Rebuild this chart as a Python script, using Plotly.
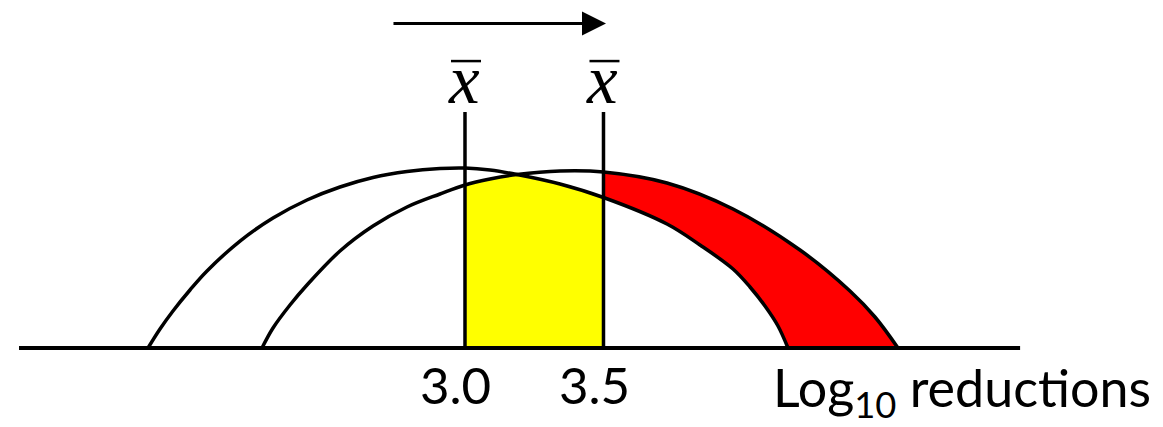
import numpy as np
import plotly.graph_objects as go

# means of the two log-reduction distributions
means = [3.0, 3.5]
tick_labels = ["3.0", "3.5"]
mean_label = "x"
axis_title = "Log<sub>10</sub> reductions"

# original distribution (height is relative)
before_x = [1.8556, 1.8989, 1.9458, 2.0072, 2.0686, 2.1877, 2.3069, 2.4296, 2.5487, 2.6679,
            2.7906, 2.9097, 3.0, 3.0903, 3.1877, 3.343, 3.5, 3.7292, 3.8484, 3.9675,
            4.0289, 4.0830, 4.1300, 4.1661]
before_y = [0.0, 0.1056, 0.2056, 0.3222, 0.4278, 0.5944, 0.7222, 0.8222, 0.8944, 0.9472,
            0.9806, 0.9972, 1.0, 0.9889, 0.9639, 0.9111, 0.8361, 0.6889, 0.5722, 0.4389,
            0.3389, 0.2333, 0.1222, 0.0]

# shifted distribution after the process improvement
after_x = [2.2671, 2.3069, 2.3682, 2.4296, 2.5487, 2.6679, 2.7906, 2.9097, 3.0, 3.0903,
           3.1877, 3.343, 3.5, 3.7292, 3.9675, 4.2094, 4.3899, 4.4801, 4.5632]
after_y = [0.0, 0.1111, 0.2389, 0.35, 0.5389, 0.6778, 0.7833, 0.8556, 0.9056, 0.9389,
           0.9639, 0.9833, 0.9778, 0.9167, 0.7722, 0.5444, 0.3167, 0.1722, 0.0]

bx, by = np.array(before_x), np.array(before_y)
ax_, ay_ = np.array(after_x), np.array(after_y)
after_lookup = dict(zip(after_x, after_y))

# yellow: area under both curves between the two means
m = (bx >= means[0]) & (bx <= means[1])
yellow_x = bx[m]
yellow_y = [min(y, after_lookup[x]) for x, y in zip(before_x, before_y) if means[0] <= x <= means[1]]

# red: gap between the curves above the new mean
red_lo = bx >= means[1]
red_hi = ax_ >= means[1]

fig = go.Figure()
fig.add_trace(go.Scatter(x=yellow_x, y=yellow_y, mode="lines", fill="tozeroy",
                         fillcolor="#FFFF00", line=dict(width=0, shape="spline")))
fig.add_trace(go.Scatter(x=bx[red_lo], y=by[red_lo], mode="lines",
                         line=dict(width=0, shape="spline")))
fig.add_trace(go.Scatter(x=ax_[red_hi], y=ay_[red_hi], mode="lines", fill="tonexty",
                         fillcolor="#FF0000", line=dict(width=0, shape="spline")))

for xs, ys in [(before_x, before_y), (after_x, after_y)]:
    fig.add_trace(go.Scatter(x=xs, y=ys, mode="lines",
                             line=dict(color="black", width=3.5, shape="spline")))

line_top = 1.311
bar_level = 1.594
for mu in means:
    fig.add_trace(go.Scatter(x=[mu, mu], y=[0, line_top], mode="lines",
                             line=dict(color="black", width=3.5)))
    # overline of the x-bar symbol
    fig.add_shape(type="line", xref="x", yref="y", xsizemode="pixel", xanchor=mu,
                  x0=-14, x1=16, y0=bar_level, y1=bar_level,
                  line=dict(color="black", width=2.5))

fig.add_trace(go.Scatter(x=[1.39, 5.004], y=[0, 0], mode="lines",
                         line=dict(color="black", width=4)))

label_font = dict(family="Lato", size=51, color="black")
for mu, lab in zip(means, tick_labels):
    fig.add_annotation(x=mu, y=0.0239, yref="paper", text=lab, showarrow=False,
                       xshift=-9, font=label_font)
    fig.add_annotation(x=mu, y=0.9236, yref="paper", text=mean_label, showarrow=False,
                       xshift=-1, font=dict(family="Liberation Serif", size=69,
                                            color="black", style="italic"))

fig.add_annotation(x=0.9913, y=-0.0023, xref="paper", yref="paper", xanchor="right",
                   text=axis_title, showarrow=False,
                   font=dict(family="Lato", size=52, color="black"))

# arrow showing the shift of the mean
fig.add_annotation(x=3.509, y=1.803, ax=-214, ay=0, text="", showarrow=True,
                   arrowhead=2, arrowwidth=3, arrowsize=1.6, arrowcolor="black")

# page body keeps an 8px margin, so the figure fills the rest of the window
fig.update_xaxes(range=[1.3502, 5.5199], visible=False)
fig.update_yaxes(range=[-0.4389, 1.8889], visible=False)
fig.update_layout(width=1155, height=419, margin=dict(l=0, r=0, t=0, b=0),
                  plot_bgcolor="white", paper_bgcolor="white", showlegend=False)

fig.write_html("out.html")
